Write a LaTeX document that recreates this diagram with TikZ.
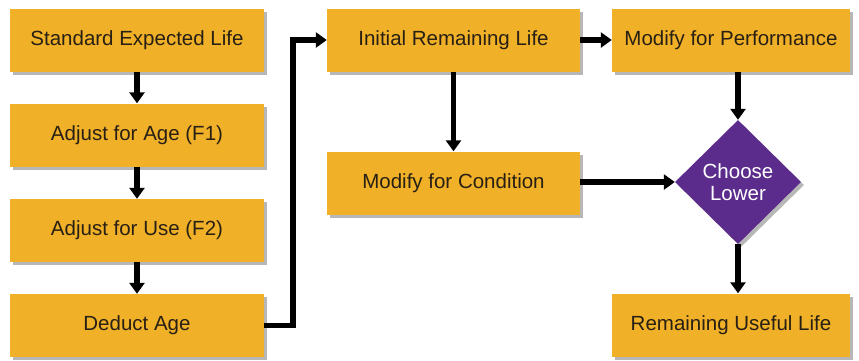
\documentclass[tikz,border=0pt]{standalone}
\usepackage{fontspec}
\setmainfont{Liberation Sans}
\usetikzlibrary{shapes.geometric,shadows,arrows.meta}
\definecolor{boxorange}{RGB}{240,176,40}
\definecolor{diapurple}{RGB}{92,44,140}
\definecolor{txt}{RGB}{40,32,20}
\begin{document}
\begin{tikzpicture}[x=1pt,y=-1pt,
 shad/.style={drop shadow={shadow xshift=3pt,shadow yshift=-3pt,opacity=0.4,fill=black!70}},
 stepbox/.style={shad, fill=boxorange, minimum height=63pt, inner sep=0pt, font=\fontsize{20.5}{24}\selectfont, text=txt},
 arr/.style={line width=5.5pt, line join=miter, -{Triangle[width=15pt,length=11pt]}},
]
\useasboundingbox (0,0) rectangle (859,360);
\node[stepbox, minimum width=254pt] (sel) at (137,40) {Standard Expected Life};
\node[stepbox, minimum width=254pt] (f1) at (137,135) {Adjust for Age (F1)};
\node[stepbox, minimum width=254pt] (f2) at (137,230.5) {Adjust for Use (F2)};
\node[stepbox, minimum width=254pt] (ded) at (137,325.5) {Deduct Age};
\node[stepbox, minimum width=253pt] (irl) at (453.5,40) {Initial Remaining Life};
\node[stepbox, minimum width=253pt] (mfc) at (453.5,183) {Modify for Condition};
\node[stepbox, minimum width=238pt] (mfp) at (731,40) {Modify for Performance};
\node[stepbox, minimum width=238pt] (rul) at (731,325) {Remaining Useful Life};
\node[shad, diamond, fill=diapurple, minimum width=126pt, minimum height=124pt, inner sep=0pt, text=white, align=center, font=\fontsize{20.5}{22}\selectfont] (cl) at (738,182) {Choose\\Lower};
\draw[arr] (sel) -- (f1);
\draw[arr] (f1) -- (f2);
\draw[arr] (f2) -- (ded);
\draw[arr] (ded.east) -- ++(29,0) |- (irl.west);
\draw[arr] (irl) -- (mfc);
\draw[arr] (irl) -- (mfp);
\draw[arr] (mfp.south -| cl.north) -- (cl.north);
\draw[arr] (mfc.east |- cl.west) -- (cl.west);
\draw[arr] (cl.south) -- (rul.north -| cl.south);
\end{tikzpicture}
\end{document}
